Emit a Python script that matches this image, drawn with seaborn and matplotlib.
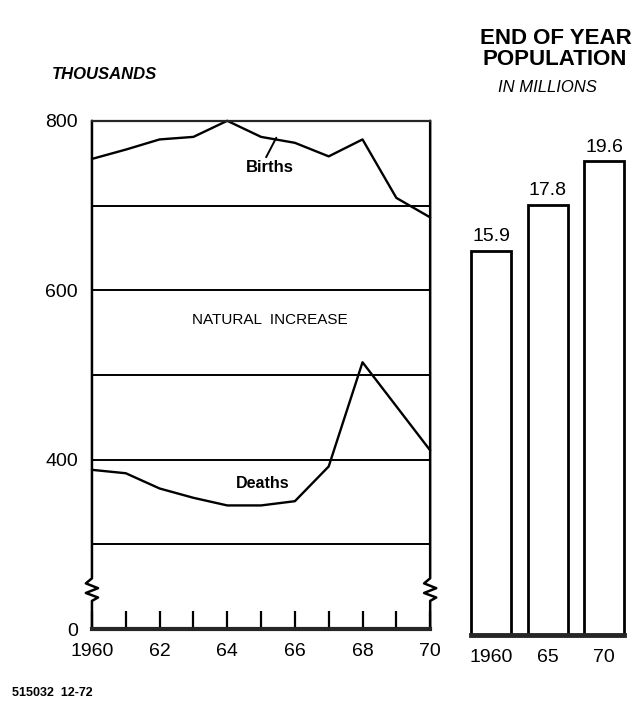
import matplotlib
matplotlib.use('Agg')
import matplotlib.pyplot as plt
import numpy as np
import pandas as pd
import seaborn as sns

# Data
years = list(range(1960, 1971))
births = [755, 766, 778, 781, 800, 781, 774, 758, 778, 709, 686]
deaths = [388, 384, 366, 355, 346, 346, 351, 392, 515, 463, 411]

y_ticks = [0, 300, 400, 500, 600, 700, 800]
y_tick_labels = ['0', '', '400', '', '600', '', '800']
x_tick_labels = ['1960', '', '62', '', '64', '', '66', '', '68', '', '70']

pop_years = ['1960', '65', '70']
pop_millions = [15.9, 17.8, 19.6]

sns.set_style('white')
plt.rcParams['font.family'] = ['Liberation Sans', 'DejaVu Sans']
plt.rcParams['text.color'] = 'black'
plt.rcParams['xtick.color'] = 'black'
plt.rcParams['ytick.color'] = 'black'


# broken axis: everything under 300 is squeezed to a third
def forward(y):
    y = np.asarray(y, dtype=float)
    return np.where(y >= 300, y, 200 + y / 3)


def inverse(t):
    t = np.asarray(t, dtype=float)
    return np.where(t >= 300, t, (t - 200) * 3)


df = pd.DataFrame({
    'year': years * 2,
    'value': births + deaths,
    'series': ['Births'] * len(years) + ['Deaths'] * len(years)})

fig = plt.figure(figsize=(6.43, 7.19), dpi=100)
ax = fig.add_axes([0.143, 0.125, 0.526, 0.707])
ax.set_yscale('function', functions=(forward, inverse))

sns.lineplot(data=df, x='year', y='value', hue='series',
             palette=['black', 'black'], linewidth=1.7, legend=False, ax=ax)
for line in ax.lines:
    line.set_clip_on(False)

ax.set_xlim(1960, 1970)
ax.set_ylim(0, 800)
ax.set_xticks(years)
ax.set_xticklabels(x_tick_labels)
ax.set_yticks(y_ticks)
ax.set_yticklabels(y_tick_labels)
ax.set_xlabel('')
ax.set_ylabel('')
ax.yaxis.grid(True, color='black', linewidth=1.4)
ax.tick_params(axis='y', length=0, pad=10, labelsize=14)
ax.tick_params(axis='x', bottom=True, direction='in', length=13, width=1.6,
               pad=10, labelsize=14, color='black')

ax.spines['top'].set_linewidth(1.6)
ax.spines['bottom'].set_linewidth(3)
ax.spines['left'].set_visible(False)
ax.spines['right'].set_visible(False)

# side frame lines with the zigzag break
d = 0.018
zx = np.array([0, 0, d, -d, d, -d, 0, 0])
zy = [0, 100, 112, 128, 145, 162, 180, 800]
for x0 in (0, 1):
    ax.plot(x0 + zx, zy, color='black', linewidth=1.8,
            transform=ax.get_yaxis_transform(), clip_on=False)

ax.text(1965.25, 745, 'Births', ha='center', va='center',
        fontsize=12, fontweight='bold')
ax.plot([1965.45, 1965.15], [780, 757], color='black', linewidth=1.4)
ax.text(1965.05, 372, 'Deaths', ha='center', va='center',
        fontsize=11.5, fontweight='bold')
ax.text(1965.25, 565, 'NATURAL  INCREASE', ha='center', va='center',
        fontsize=11)

# population bars
ax2 = fig.add_axes([0.720, 0.117, 0.2636, 0.715])
sns.barplot(x=pop_years, y=pop_millions, color='white', edgecolor='black',
            linewidth=2, width=0.71, ax=ax2)
ax2.bar_label(ax2.containers[0], fmt='%.1f', padding=4, fontsize=14)
ax2.set_xlim(-0.5, 2.5)
ax2.set_ylim(0, 21.27)
ax2.set_yticks([])
ax2.tick_params(axis='x', length=0, pad=10, labelsize=14)
for s in ('top', 'left', 'right'):
    ax2.spines[s].set_visible(False)
ax2.spines['bottom'].set_linewidth(3.5)
ax2.spines['bottom'].set_bounds(-0.355, 2.355)

fig.text(0.163, 0.896, 'THOUSANDS', ha='center', va='center',
         fontsize=12, fontweight='bold', fontstyle='italic')
fig.text(0.865, 0.947, 'END OF YEAR', ha='center', va='center',
         fontsize=16, fontweight='bold')
fig.text(0.863, 0.9166, 'POPULATION', ha='center', va='center',
         fontsize=16, fontweight='bold')
fig.text(0.852, 0.878, 'IN MILLIONS', ha='center', va='center',
         fontsize=12, fontstyle='italic')
fig.text(0.019, 0.036, '515032  12-72', ha='left', va='center',
         fontsize=9, fontweight='bold')

fig.savefig('out.png', dpi=100, facecolor='white')
